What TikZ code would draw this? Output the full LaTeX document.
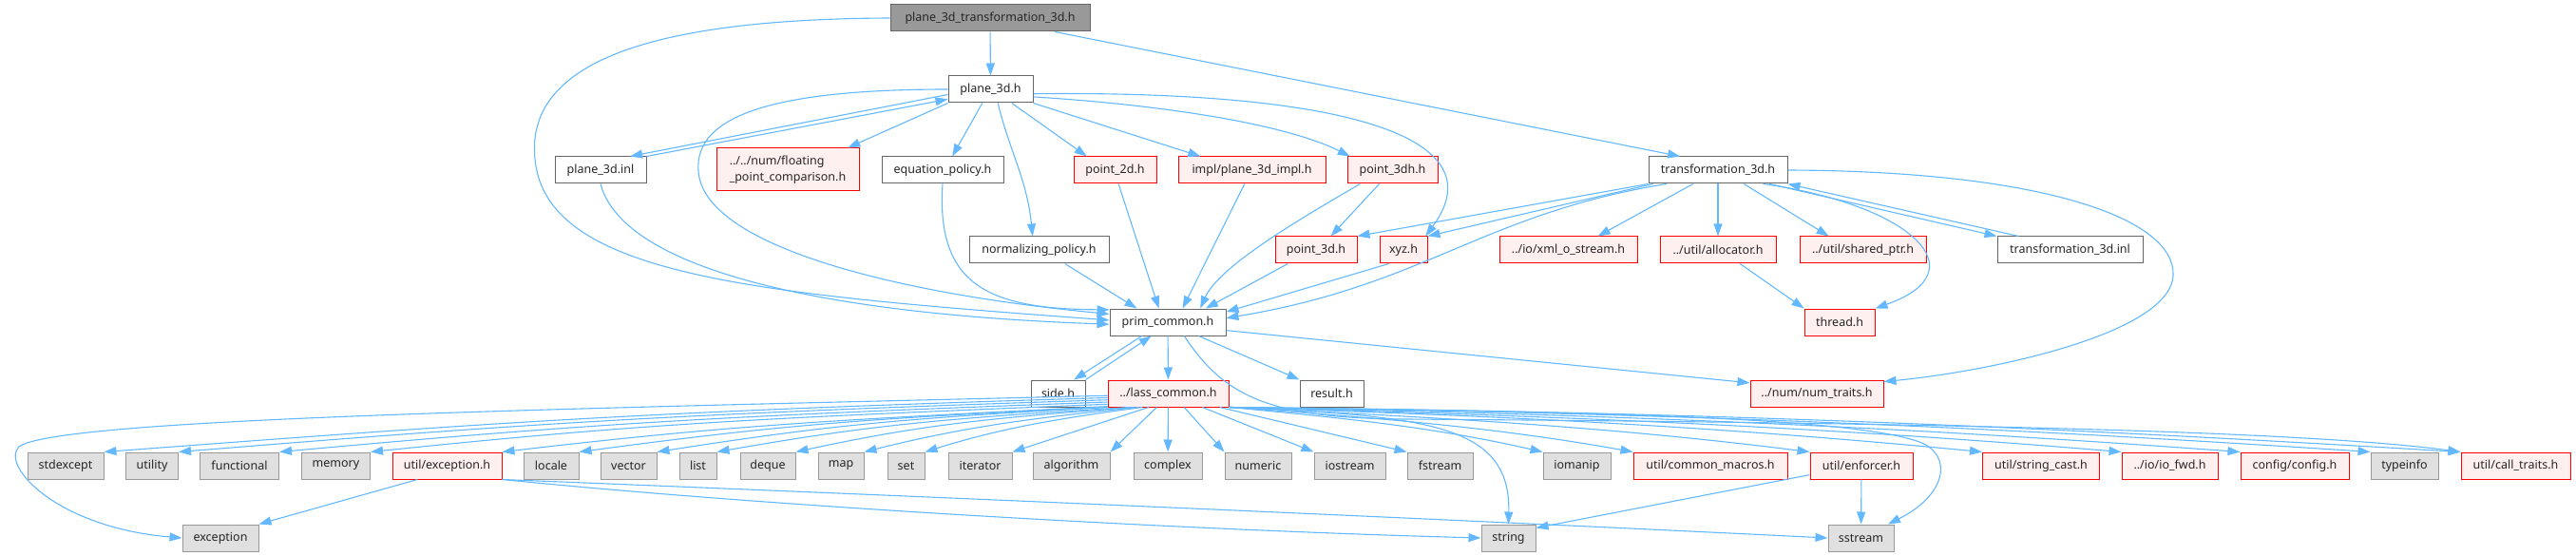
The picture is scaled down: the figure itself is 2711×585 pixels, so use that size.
\documentclass[tikz,border=0pt]{standalone}
\usepackage{fontspec}
\setmainfont{Noto Sans}
\usetikzlibrary{arrows.meta}
\definecolor{edgeblue}{HTML}{63B8FF}
\definecolor{grey40}{HTML}{666666}
\definecolor{grey60}{HTML}{999999}
\definecolor{redfill}{HTML}{FFF0F0}
\definecolor{sysfill}{HTML}{E0E0E0}
\tikzset{
    box/.style={
    rectangle,line width=1pt,minimum height=28pt,inner xsep=3pt,inner ysep=0pt,text=black!85,font=\fontsize{12.5}{17}\selectfont
    },
    root/.style={
    box,draw=grey40,fill=grey60
    },
    file/.style={
    box,draw=grey40,fill=white
    },
    redfile/.style={
    box,draw=red,fill=redfill
    },
    sysfile/.style={
    box,draw=grey60,fill=sysfill
    },
    dep/.style={
    color=edgeblue,line width=1.1pt,-{Triangle[length=13pt,width=9pt]}
    },
}

\begin{document}
\begin{tikzpicture}[x=1pt,y=-1pt]
   \useasboundingbox (0,0) rectangle (2711,585);
   \node[root,minimum width=210pt] (top) at (1042,19) {plane\_3d\_transformation\_3d.h};
   \node[file,minimum width=89pt] (plane3d) at (1042.5,94) {plane\_3d.h};

   \node[file,minimum width=96pt] (inl) at (632,179) {plane\_3d.inl};
   \node[redfile,minimum width=150pt,minimum height=45pt,align=left] (fpc) at (829,178.5) {../../num/floating\\\_point\_comparison.h};
   \node[file,minimum width=128pt] (eqp) at (992,179) {equation\_policy.h};
   \node[redfile,minimum width=87pt] (p2d) at (1173.5,179) {point\_2d.h};
   \node[redfile,minimum width=155pt] (impl) at (1317.5,179) {impl/plane\_3d\_impl.h};
   \node[redfile,minimum width=95pt] (p3dh) at (1465.5,179) {point\_3dh.h};
   \node[file,minimum width=146pt] (tr3d) at (1808,179) {transformation\_3d.h};

   \node[file,minimum width=147pt] (normp) at (1093.5,263) {normalizing\_policy.h};
   \node[redfile,minimum width=86pt] (p3d) at (1385,263) {point\_3d.h};
   \node[redfile,minimum width=50pt] (xyz) at (1477,263) {xyz.h};
   \node[redfile,minimum width=145pt] (xml) at (1650.5,263) {../io/xml\_o\_stream.h};
   \node[redfile,minimum width=122pt] (alloc) at (1808,263) {../util/allocator.h};
   \node[redfile,minimum width=133pt] (sptr) at (1960.5,263) {../util/shared\_ptr.h};
   \node[file,minimum width=153pt] (tinl) at (2178.5,263) {transformation\_3d.inl};

   \node[file,minimum width=122pt] (prim) at (1229,339) {prim\_common.h};
   \node[redfile,minimum width=74pt] (thread) at (1936,339) {thread.h};

   \node[file,minimum width=57pt] (side) at (1113.5,414) {side.h};
   \node[redfile,minimum width=127pt] (lass) at (1229.5,414) {../lass\_common.h};
   \node[file,minimum width=67pt] (result) at (1401.5,414) {result.h};
   \node[redfile,minimum width=140pt] (numtr) at (1912,414) {../num/num\_traits.h};

   \node[sysfile,minimum width=80pt] (stdexcept) at (69,490) {stdexcept};
   \node[sysfile,minimum width=55pt] (utility) at (160,490) {utility};
   \node[sysfile,minimum width=83pt] (functional) at (252,490) {functional};
   \node[sysfile,minimum width=72pt] (memory) at (353.5,490) {memory};
   \node[redfile,minimum width=115pt] (exch) at (470.5,490) {util/exception.h};
   \node[sysfile,minimum width=58pt] (locale) at (580,490) {locale};
   \node[sysfile,minimum width=59pt] (vector) at (661.5,490) {vector};
   \node[sysfile,minimum width=39pt] (list) at (734.5,490) {list};
   \node[sysfile,minimum width=58pt] (deque) at (808,490) {deque};
   \node[sysfile,minimum width=48pt] (map) at (885,490) {map};
   \node[sysfile,minimum width=39pt] (set) at (953.5,490) {set};
   \node[sysfile,minimum width=67pt] (iterator) at (1031.5,490) {iterator};
   \node[sysfile,minimum width=81pt] (algorithm) at (1127.5,490) {algorithm};
   \node[sysfile,minimum width=72pt] (complex) at (1229,490) {complex};
   \node[sysfile,minimum width=70pt] (numeric) at (1324,490) {numeric};
   \node[sysfile,minimum width=75pt] (iostream) at (1420.5,490) {iostream};
   \node[sysfile,minimum width=69pt] (fstream) at (1515.5,490) {fstream};
   \node[sysfile,minimum width=71pt] (iomanip) at (1659.5,490) {iomanip};
   \node[redfile,minimum width=162pt] (cmacros) at (1800,490) {util/common\_macros.h};
   \node[redfile,minimum width=108pt] (enforcer) at (1959,490) {util/enforcer.h};
   \node[redfile,minimum width=123pt] (strcast) at (2148,490) {util/string\_cast.h};
   \node[redfile,minimum width=101pt] (iofwd) at (2283.5,490) {../io/io\_fwd.h};
   \node[redfile,minimum width=114pt] (config) at (2415,490) {config/config.h};
   \node[sysfile,minimum width=71pt] (typeinfo) at (2530.5,490) {typeinfo};
   \node[redfile,minimum width=115pt] (calltr) at (2647.5,490) {util/call\_traits.h};

   \node[sysfile,minimum width=80pt] (exception) at (232,566) {exception};
   \node[sysfile,minimum width=57pt] (string) at (1587.5,566) {string};
   \node[sysfile,minimum width=69pt] (sstream) at (1958.5,566) {sstream};

  \path[dep]
    (top) edge (plane3d)
    (top.348) edge (tr3d.160)
    (plane3d.187) edge (inl.25)
    (inl.north east) edge (plane3d.193)
    (plane3d.south west) edge (fpc.20)
    (plane3d.239) edge (eqp.55)
    (plane3d.327) edge (p2d.154)
    (plane3d.south east) edge (impl.165)
    (normp.332) edge (prim.156)
    (p2d.284) edge (prim.123)
    (impl.242) edge (prim.43)
    (p3dh.226) edge (p3d.43)
    (p3d.206) edge (prim.20)
    (xyz.223) edge (prim.10)
    (tr3d.south west) edge (p3d.north east)
    (tr3d.192) edge (xyz.north east)
    (tr3d.209) edge (xml.25)
    (tr3d) edge (alloc)
    (tr3d.332) edge (sptr.158)
    (tr3d.345) edge (tinl.north west)
    (tinl.165) edge (tr3d.south east)
    (alloc.328) edge (thread.north west)
    (prim.208) edge (side.41)
    (side.north east) edge (prim.220)
    (prim) edge (lass)
    (prim.336) edge (result.north west)
    (prim.352) edge (numtr.171)
    (lass.215) edge (iterator.north east)
    (lass.230) edge (algorithm.north east)
    (lass) edge (complex)
    (lass.319) edge (numeric.north west)
    (lass.338) edge (iostream.north west)
    (lass.345) edge (fstream.north west)
    (exch.205) edge (exception.north east)
    (enforcer.190) edge (string.20)
    (enforcer) edge (sstream);

  \draw[dep] (top.west) .. controls (700,20) and (540,60) .. (565,180) .. controls (590,290) and (800,310) .. (prim.178);
  \draw[dep] (plane3d.180) .. controls (820,94) and (730,120) .. (735,180) .. controls (740,260) and (950,310) .. (prim.172);
  \draw[dep] (inl.south) .. controls (655,280) and (850,330) .. (prim.182);
  \draw[dep] (eqp.south) .. controls (985,300) and (1040,325) .. (prim.168);
  \draw[dep] (plane3d.298) .. controls +(12,50) and +(-6,-60) .. (normp.115);
  \draw[dep] (plane3d.350) .. controls +(130,8) and +(-70,-35) .. (p3dh.162);
  \draw[dep] (plane3d.354) .. controls (1400,95) and (1580,140) .. (xyz.32);
  \draw[dep] (p3dh.203) .. controls +(-60,35) and +(20,-45) .. (prim.23);
  \draw[dep] (tr3d.195) .. controls (1560,225) and (1500,300) .. (prim.4);
  \draw[dep] (tr3d.343) .. controls (2010,215) and (2085,285) .. (thread.north east);
  \draw[dep] (tr3d.east) .. controls (2150,180) and (2290,230) .. (2287,290) .. controls (2284,350) and (2100,390) .. (numtr.10);
  \draw[dep] (prim.320) .. controls (1290,420) and (1340,440) .. (1480,441) .. controls (1900,444) and (2400,450) .. (calltr.north west);

  \draw[dep] (lass.182) .. controls (600,430) and (60,440) .. (20,470) .. controls (0,490) and (60,555) .. (exception.west);
  \draw[dep] (lass.184) .. controls +(-500,15) and +(400,-30) .. (stdexcept.north east);
  \draw[dep] (lass.186) .. controls +(-460,15) and +(370,-30) .. (utility.north east);
  \draw[dep] (lass.188) .. controls +(-410,15) and +(330,-30) .. (functional.north east);
  \draw[dep] (lass.190) .. controls +(-370,15) and +(290,-30) .. (memory.north east);
  \draw[dep] (lass.192) .. controls +(-300,15) and +(240,-28) .. (exch.north east);
  \draw[dep] (lass.south west) .. controls +(-260,12) and +(210,-28) .. (locale.north east);
  \draw[dep] (lass.south west) .. controls +(-220,12) and +(180,-28) .. (vector.north east);
  \draw[dep] (lass.200) .. controls +(-200,12) and +(160,-28) .. (list.north east);
  \draw[dep] (lass.202) .. controls +(-160,12) and +(130,-28) .. (deque.north east);
  \draw[dep] (lass.205) .. controls +(-120,12) and +(100,-25) .. (map.north east);
  \draw[dep] (lass.208) .. controls +(-90,12) and +(80,-25) .. (set.north east);

  \draw[dep] (lass.south east) .. controls +(130,12) and +(-110,-25) .. (iomanip.north west);
  \draw[dep] (lass.south east) .. controls +(170,12) and +(-140,-25) .. (cmacros.north west);
  \draw[dep] (lass.south east) .. controls +(250,12) and +(-200,-25) .. (enforcer.north west);
  \draw[dep] (lass.south east) .. controls +(320,10) and +(-260,-25) .. (strcast.north west);
  \draw[dep] (lass.south east) .. controls +(380,10) and +(-300,-25) .. (iofwd.north west);
  \draw[dep] (lass.south east) .. controls +(430,8) and +(-340,-25) .. (config.north west);
  \draw[dep] (lass.south east) .. controls +(480,6) and +(-380,-25) .. (typeinfo.north west);
  \draw[dep] (lass.south east) .. controls +(520,5) and +(-420,-25) .. (calltr.north west);
  \draw[dep] (lass.south east) .. controls (1500,438) and (1590,445) .. (string.north);
  \draw[dep] (lass.south east) .. controls (1700,433) and (1950,440) .. (2020,465) .. controls (2055,478) and (2050,520) .. (sstream.27);

  \draw[dep] (exch.south east) .. controls +(300,30) and +(-300,-8) .. (string.west);
  \draw[dep] (exch.south east) .. controls +(450,18) and +(-450,-22) .. (sstream.west);
\end{tikzpicture}
\end{document}
